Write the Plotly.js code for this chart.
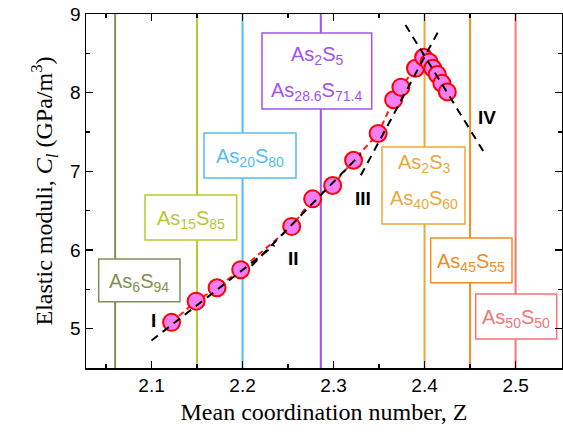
<!DOCTYPE html>
<html>
<head>
<meta charset="utf-8">
<script src="https://cdn.plot.ly/plotly-3.0.1.min.js"></script>
<style>
html,body{margin:0;padding:0;background:#fff;}
#chart{width:563px;height:437px;}
</style>
</head>
<body>
<div id="chart"></div>
<script>
// ---- data ----
const zValues = [2.122, 2.149, 2.172, 2.198, 2.254, 2.277, 2.299, 2.322, 2.349, 2.366, 2.374, 2.390, 2.399, 2.405, 2.409, 2.414, 2.419, 2.425];
const modulus = [5.08, 5.35, 5.52, 5.75, 6.30, 6.65, 6.82, 7.14, 7.48, 7.91, 8.07, 8.31, 8.45, 8.39, 8.31, 8.23, 8.12, 8.01];

const compLabels = [
  ['As<sub>6</sub>S<sub>94</sub>'],
  ['As<sub>15</sub>S<sub>85</sub>'],
  ['As<sub>20</sub>S<sub>80</sub>'],
  ['As<sub>2</sub>S<sub>5</sub>', 'As<sub>28.6</sub>S<sub>71.4</sub>'],
  ['As<sub>2</sub>S<sub>3</sub>', 'As<sub>40</sub>S<sub>60</sub>'],
  ['As<sub>45</sub>S<sub>55</sub>'],
  ['As<sub>50</sub>S<sub>50</sub>']
];
const compZ = [2.06, 2.15, 2.20, 2.286, 2.40, 2.45, 2.50];

const fitX = [[2.10, 2.235], [2.21, 2.33], [2.33, 2.417], [2.379, 2.467]];
const fitY = [[4.85, 6.06], [5.80, 7.22], [6.95, 8.82], [8.86, 7.21]];
const regionLabels = ['I', 'II', 'III', 'IV'];

const xTitle = 'Mean coordination number, Z';
const yTitle = 'Elastic moduli, <i>C<sub>l</sub></i> (GPa/m<sup>3</sup>)';

// ---- styles / layout ----
const compColors = ['#7d9352', '#b6c934', '#55bdf2', '#a251f5', '#e9a93a', '#f28d1f', '#f27676'];
const xRange = [2.028, 2.551], yRange = [4.5, 9];
const M = {l: 86, r: 1, t: 14, b: 69};
const W = 563, H = 437;
const pw = W - M.l - M.r, ph = H - M.t - M.b;
const px2x = p => xRange[0] + (p - M.l) / pw * (xRange[1] - xRange[0]);
const py2y = p => yRange[1] - (p - M.t) / ph * (yRange[1] - yRange[0]);

// box rectangles in pixels [x0,x1,y0,y1] and text line centres (pixel y)
const boxPx = [
  [98.7, 180, 259, 301.7],
  [145, 236.7, 195, 240],
  [204, 296, 133, 178],
  [262, 371.7, 33, 109],
  [382, 465, 147, 224],
  [430.7, 512, 238, 282.7],
  [475.7, 556.7, 294, 339]
];
const lineYPx = [[282], [219], [157], [55, 91], [163, 199], [262], [318]];
const regionPx = [[153, 320], [293, 258], [363, 198], [487, 117]];

const traces = [];
// red dashed connecting line + markers
traces.push({
  x: zValues, y: modulus, mode: 'lines', type: 'scatter',
  line: {color: '#ff1a1a', width: 2, dash: '6px,4px'}, hoverinfo: 'skip', showlegend: false
});
traces.push({
  x: zValues, y: modulus, mode: 'markers', type: 'scatter',
  marker: {size: 17, color: '#f57ef5', line: {color: '#ff0000', width: 2}}, showlegend: false
});
// black dashed fits
for (let i = 0; i < fitX.length; i++) {
  traces.push({
    x: fitX[i], y: fitY[i], mode: 'lines', type: 'scatter',
    line: {color: '#000', width: 2, dash: '8px,6px'}, hoverinfo: 'skip', showlegend: false
  });
}

const shapes = [];
compZ.forEach((z, i) => {
  shapes.push({type: 'line', xref: 'x', yref: 'y', x0: z, x1: z, y0: yRange[0], y1: yRange[1],
    line: {color: compColors[i], width: 2}, layer: 'below'});
});
boxPx.forEach((b, i) => {
  shapes.push({type: 'rect', xref: 'x', yref: 'y', x0: px2x(b[0]), x1: px2x(b[1]), y0: py2y(b[3]), y1: py2y(b[2]),
    line: {color: compColors[i], width: 1.5}, fillcolor: '#ffffff', layer: 'below'});
});

const annotations = [];
compLabels.forEach((lines, i) => {
  const cx = (boxPx[i][0] + boxPx[i][1]) / 2;
  lines.forEach((t, j) => {
    annotations.push({
      x: px2x(cx), y: py2y(lineYPx[i][j]), xref: 'x', yref: 'y', text: t, showarrow: false,
      xanchor: 'center', yanchor: 'middle',
      font: {family: 'Arial, "Liberation Sans", sans-serif', size: 20, color: compColors[i]}
    });
  });
});
regionLabels.forEach((t, i) => {
  annotations.push({
    x: px2x(regionPx[i][0]), y: py2y(regionPx[i][1]), xref: 'x', yref: 'y', text: '<b>' + t + '</b>',
    showarrow: false, xanchor: 'center', yanchor: 'middle',
    font: {family: 'Arial, "Liberation Sans", sans-serif', size: 19, color: '#000'}
  });
});

const axisCommon = {
  showline: true, linecolor: '#000', linewidth: 1.5, mirror: 'ticks',
  ticks: 'inside', ticklen: 7, tickwidth: 1.5, tickcolor: '#000',
  showgrid: false, zeroline: false,
  tickfont: {family: 'Arial, "Liberation Sans", sans-serif', size: 19, color: '#000'}
};

const layout = {
  width: W, height: H, margin: M,
  paper_bgcolor: '#fff', plot_bgcolor: '#fff',
  showlegend: false,
  xaxis: Object.assign({}, axisCommon, {
    range: xRange, tick0: 2.1, dtick: 0.1,
    minor: {dtick: 0.05, ticks: 'inside', ticklen: 4, tickwidth: 1.5, tickcolor: '#000', showgrid: false},
    title: {text: xTitle, standoff: 8, font: {family: '"Times New Roman", "Liberation Serif", serif', size: 24, color: '#000'}}
  }),
  yaxis: Object.assign({}, axisCommon, {
    range: yRange, tick0: 5, dtick: 1,
    minor: {dtick: 0.5, ticks: 'inside', ticklen: 4, tickwidth: 1.5, tickcolor: '#000', showgrid: false},
    title: {text: yTitle, standoff: 10, font: {family: '"Times New Roman", "Liberation Serif", serif', size: 24, color: '#000'}}
  }),
  shapes: shapes,
  annotations: annotations
};

Plotly.newPlot('chart', traces, layout, {staticPlot: true, displayModeBar: false});
</script>
</body>
</html>
